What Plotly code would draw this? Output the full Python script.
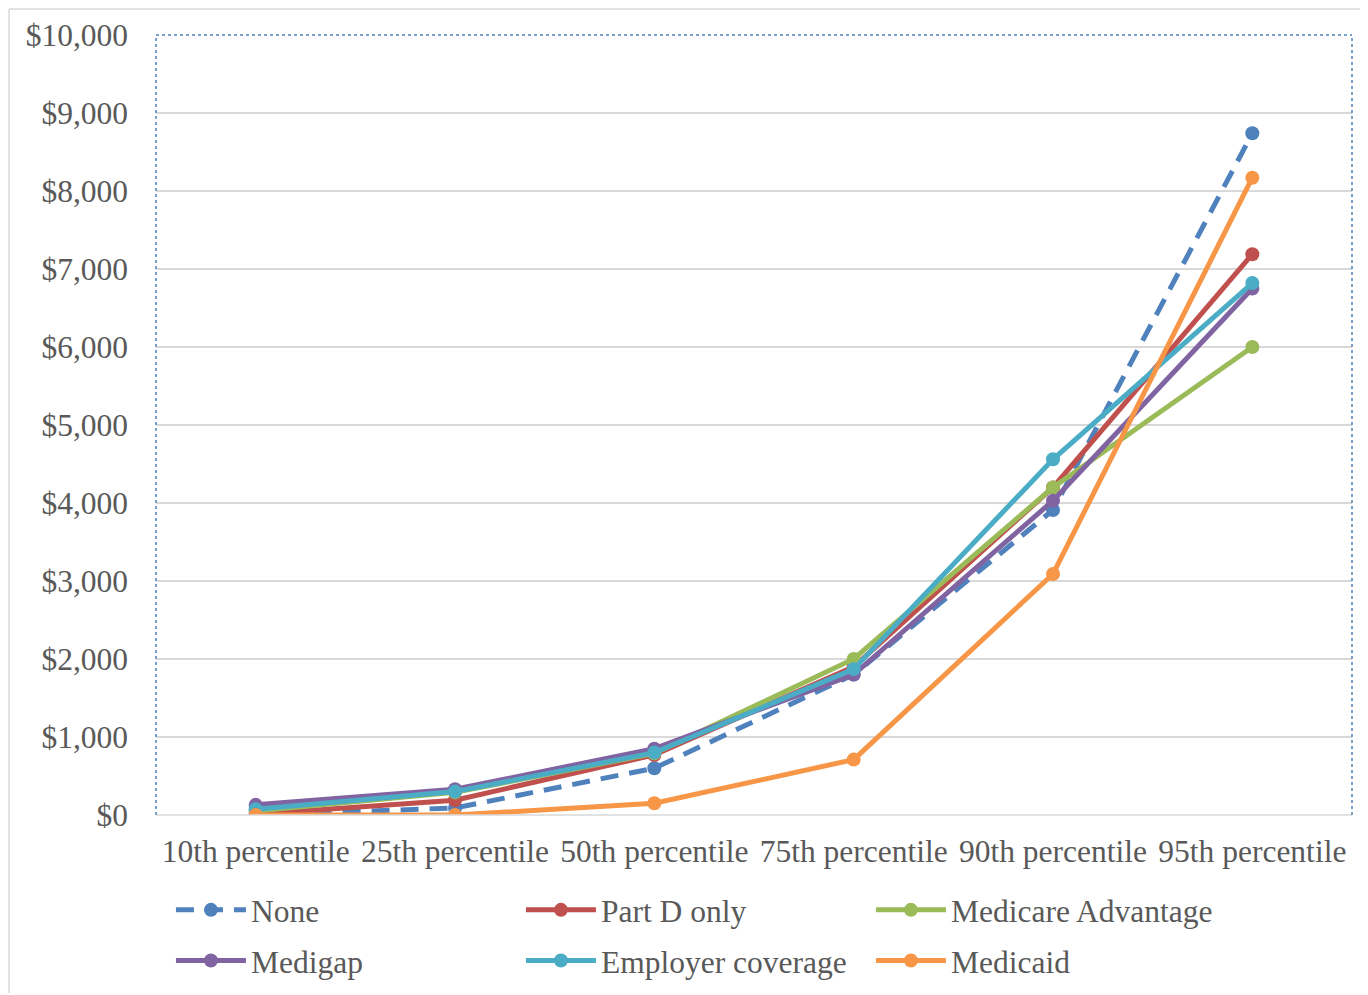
import plotly.graph_objects as go

categories = ["10th percentile", "25th percentile", "50th percentile",
              "75th percentile", "90th percentile", "95th percentile"]

none_vals = [0, 90, 600, 1800, 3910, 8740]
partd_vals = [10, 190, 770, 1900, 4200, 7190]
ma_vals = [50, 290, 790, 2000, 4200, 6000]
medigap_vals = [130, 330, 850, 1800, 4030, 6750]
employer_vals = [75, 300, 800, 1870, 4560, 6820]
medicaid_vals = [0, 0, 150, 710, 3090, 8170]

series = [
    ("None", none_vals, "#4F81BD", "18px,11px", "legend"),
    ("Part D only", partd_vals, "#C0504D", "solid", "legend"),
    ("Medicare Advantage", ma_vals, "#9BBB59", "solid", "legend"),
    ("Medigap", medigap_vals, "#8064A2", "solid", "legend2"),
    ("Employer coverage", employer_vals, "#4BACC6", "solid", "legend2"),
    ("Medicaid", medicaid_vals, "#F79646", "solid", "legend2"),
]

tick_vals = list(range(0, 10001, 1000))
tick_text = ["${:,}".format(v) for v in tick_vals]

fig = go.Figure()
for name, vals, color, dash, leg in series:
    fig.add_trace(go.Scatter(
        x=categories, y=vals, name=name, mode="lines+markers",
        line=dict(color=color, width=5, dash=dash),
        marker=dict(color=color, size=14),
        legend=leg,
    ))

font_color = "#595959"
FS = 31.5
legend_common = dict(
    orientation="h", xanchor="left", yanchor="top",
    font=dict(family="Liberation Serif", size=FS, color=font_color),
    entrywidth=265, entrywidthmode="pixels",
    bgcolor="rgba(0,0,0,0)", itemwidth=70,
)

W, H = 1360, 987
L, T, PW, PH = 148, 27, 1196, 780
B = T + PH  # plot bottom in figure px

fig.update_layout(
    width=W, height=H,
    margin=dict(l=L, r=W - L - PW, t=T, b=H - T - PH, autoexpand=False),
    paper_bgcolor="white", plot_bgcolor="white",
    font=dict(family="Liberation Serif", color=font_color),
    legend=dict(x=0.0125, y=-0.087, **legend_common),
    legend2=dict(x=0.0125, y=-0.152, **legend_common),
    xaxis=dict(
        type="category", range=[-0.5, 5.5],
        showgrid=False, showline=False, zeroline=False,
        ticks="", tickfont=dict(family="Liberation Serif", size=FS, color=font_color),
        ticklabelstandoff=14,
    ),
    yaxis=dict(
        range=[0, 10000], tickvals=tick_vals, ticktext=tick_text,
        showgrid=True, gridcolor="#D9D9D9", gridwidth=1.5,
        zeroline=False, showline=False, ticks="",
        tickfont=dict(family="Liberation Serif", size=FS, color=font_color),
        ticklabelstandoff=27,
    ),
    shapes=[
        dict(type="line", xref="paper", yref="paper", x0=0, x1=1, y0=0, y1=0,
             line=dict(color="#D9D9D9", width=1.5)),
        dict(type="line", xref="paper", yref="paper", x0=0, x1=0, y0=0, y1=1,
             line=dict(color="#4F81BD", width=1.5, dash="dot")),
        dict(type="line", xref="paper", yref="paper", x0=0, x1=1, y0=1, y1=1,
             line=dict(color="#4F81BD", width=1.5, dash="dot")),
        dict(type="line", xref="paper", yref="paper", x0=1, x1=1, y0=0, y1=1,
             line=dict(color="#4F81BD", width=1.5, dash="dot")),
        dict(type="line", xref="paper", yref="paper",
             x0=(1 - L) / PW, x1=(1 - L) / PW,
             y0=(B - 985) / PH, y1=(B - 1) / PH,
             line=dict(color="#D9D9D9", width=1.5)),
        dict(type="line", xref="paper", yref="paper",
             x0=(1 - L) / PW, x1=(W - L) / PW,
             y0=(B - 1) / PH, y1=(B - 1) / PH,
             line=dict(color="#D9D9D9", width=1.5)),
    ],
)

fig.write_html("out.html")
